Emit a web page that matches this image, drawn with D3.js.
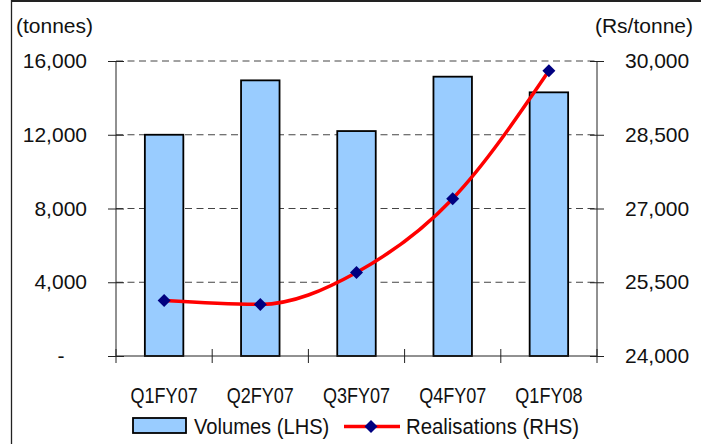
<!DOCTYPE html>
<html>
<head>
<meta charset="utf-8">
<script src="https://cdn.jsdelivr.net/npm/d3@7/dist/d3.min.js"></script>
<style>
  html, body { margin: 0; padding: 0; background: #fff; }
  svg { display: block; }
  .num { font-family: "Liberation Sans", Arial, sans-serif; font-size: 21px; fill: #111; }
  .cat { font-family: "Liberation Sans", Arial, sans-serif; font-size: 22px; fill: #111; }
</style>
</head>
<body>
<svg id="chart" width="701" height="444"></svg>
<script>
// Quarterly data
const categories = ["Q1FY07", "Q2FY07", "Q3FY07", "Q4FY07", "Q1FY08"];
const volumes = [12000, 14950, 12200, 15150, 14300];        // tonnes (LHS)
const realisations = [25130, 25050, 25700, 27200, 29800];   // Rs/tonne (RHS)
const leftTicks = [0, 4000, 8000, 12000, 16000];
const rightTicks = [24000, 25500, 27000, 28500, 30000];
const seriesNames = ["Volumes (LHS)", "Realisations (RHS)"];
const leftUnit = "(tonnes)";
const rightUnit = "(Rs/tonne)";

const svg = d3.select("#chart");
const W = 701, H = 444;
const plot = { left: 116, right: 597, top: 61, bottom: 356 };

// Outer frame
svg.append("line").attr("x1", 11).attr("x2", W).attr("y1", 1).attr("y2", 1)
  .attr("stroke", "#222").attr("stroke-width", 2);
svg.append("line").attr("x1", 11.5).attr("x2", 11.5).attr("y1", 0).attr("y2", H)
  .attr("stroke", "#222").attr("stroke-width", 1.3);

// Scales
const x = d3.scaleBand().domain(categories)
  .range([plot.left, plot.right]).paddingInner(0.6).paddingOuter(0.3);
const yL = d3.scaleLinear().domain([0, 16000]).range([plot.bottom, plot.top]);
const yR = d3.scaleLinear().domain([24000, 30000]).range([plot.bottom, plot.top]);

// Dashed gridlines
svg.append("g").selectAll("line")
  .data(leftTicks.filter(d => d > 0))
  .join("line")
  .attr("x1", plot.left).attr("x2", plot.right)
  .attr("y1", d => yL(d)).attr("y2", d => yL(d))
  .attr("stroke", "#444").attr("stroke-width", 1)
  .attr("stroke-dasharray", "7,4.5");

// Bars
svg.append("g").selectAll("rect")
  .data(volumes)
  .join("rect")
  .attr("x", (d, i) => x(categories[i]))
  .attr("y", d => yL(d))
  .attr("width", x.bandwidth())
  .attr("height", d => yL(0) - yL(d))
  .attr("fill", "#99CCFF")
  .attr("stroke", "#000").attr("stroke-width", 1.8);

// Left axis
const fmt = d3.format(",");
const gL = svg.append("g").attr("transform", `translate(${plot.left},0)`)
  .call(d3.axisLeft(yL).tickValues(leftTicks).tickSize(8).tickPadding(21)
    .tickFormat(d => d === 0 ? "-" : fmt(d)));
gL.select(".domain").remove();
gL.selectAll(".tick line").attr("x1", 8).attr("stroke", "#222");
gL.selectAll(".tick text").attr("class", "num");
gL.selectAll(".tick").filter(d => d === 0).select("text")
  .attr("x", 61 - plot.left).attr("text-anchor", "middle");
gL.attr("font-size", null).attr("font-family", null);

// Right axis
const gR = svg.append("g").attr("transform", `translate(${plot.right},0)`)
  .call(d3.axisRight(yR).tickValues(rightTicks).tickSize(7).tickPadding(21)
    .tickFormat(fmt));
gR.select(".domain").remove();
gR.selectAll(".tick line").attr("x1", -7).attr("stroke", "#222");
gR.selectAll(".tick text").attr("class", "num");
gR.attr("font-size", null).attr("font-family", null);

// Axis lines
svg.append("line").attr("x1", plot.left).attr("x2", plot.left)
  .attr("y1", plot.top).attr("y2", plot.bottom).attr("stroke", "#222");
svg.append("line").attr("x1", plot.right).attr("x2", plot.right)
  .attr("y1", plot.top).attr("y2", plot.bottom).attr("stroke", "#222");
svg.append("line").attr("x1", plot.left).attr("x2", plot.right)
  .attr("y1", plot.bottom).attr("y2", plot.bottom).attr("stroke", "#222");

// Category boundary ticks
const step = (plot.right - plot.left) / categories.length;
const edges = d3.range(categories.length + 1).map(i => plot.left + i * step);
svg.append("g").selectAll("line")
  .data(edges)
  .join("line")
  .attr("x1", d => d).attr("x2", d => d)
  .attr("y1", plot.bottom - 7).attr("y2", plot.bottom + 7)
  .attr("stroke", "#222");

// Condensed text: regular face squeezed horizontally
function narrowText(g, str, tx, ty, sx, anchor) {
  return g.append("text")
    .attr("class", "cat")
    .attr("transform", `translate(${tx},${ty}) scale(${sx},1)`)
    .attr("text-anchor", anchor || "start")
    .text(str);
}

// Category labels
const gC = svg.append("g");
categories.forEach(c => narrowText(gC, c, x(c) + x.bandwidth() / 2, 403, 0.82, "middle"));

// Realisations line (smoothed)
const cx = i => x(categories[i]) + x.bandwidth() / 2;
const line = d3.line()
  .x((d, i) => cx(i))
  .y(d => yR(d))
  .curve(d3.curveMonotoneX);
svg.append("path")
  .datum(realisations)
  .attr("d", line)
  .attr("fill", "none")
  .attr("stroke", "#FF0000")
  .attr("stroke-width", 3.5)
  .attr("stroke-linejoin", "round");

const diamond = (r) => `M0,${-r}L${r},0L0,${r}L${-r},0Z`;
svg.append("g").selectAll("path")
  .data(realisations)
  .join("path")
  .attr("transform", (d, i) => `translate(${cx(i)},${yR(d)})`)
  .attr("d", diamond(6.5))
  .attr("fill", "#000080");

// Unit labels
svg.append("text").attr("class", "num").attr("x", 16).attr("y", 33).text(leftUnit);
svg.append("text").attr("class", "num").attr("x", 693).attr("y", 33)
  .attr("text-anchor", "end").text(rightUnit);

// Legend
const lg = svg.append("g");
lg.append("rect").attr("x", 133).attr("y", 418).attr("width", 53).attr("height", 15)
  .attr("fill", "#99CCFF").attr("stroke", "#000").attr("stroke-width", 1.8);
narrowText(lg, seriesNames[0], 194, 434, 0.915);
lg.append("line").attr("x1", 344).attr("x2", 400).attr("y1", 426.5).attr("y2", 426.5)
  .attr("stroke", "#FF0000").attr("stroke-width", 3.5);
lg.append("path").attr("transform", "translate(371,426.5)").attr("d", diamond(6.5))
  .attr("fill", "#000080");
narrowText(lg, seriesNames[1], 406, 434, 0.925);
</script>
</body>
</html>
